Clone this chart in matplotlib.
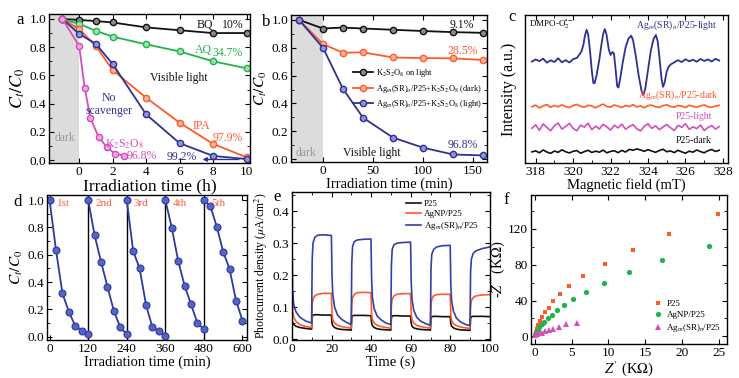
import numpy as np
import matplotlib
matplotlib.use('Agg')
import matplotlib.pyplot as plt
from matplotlib.ticker import MultipleLocator, NullLocator

plt.rcParams['font.family'] = ['Liberation Serif', 'DejaVu Serif']
plt.rcParams['mathtext.fontset'] = 'stix'
plt.rcParams['xtick.direction'] = 'in'
plt.rcParams['ytick.direction'] = 'in'
plt.rcParams['xtick.top'] = True
plt.rcParams['ytick.right'] = True
plt.rcParams['xtick.labelsize'] = 9.5
plt.rcParams['ytick.labelsize'] = 9.5
plt.rcParams['xtick.major.pad'] = 2.5
plt.rcParams['ytick.major.pad'] = 2
plt.rcParams['axes.linewidth'] = 1.0

BLACK = '#111111'
GREEN = '#22b14c'
ORANGE = '#ff5a28'
BLUE = '#2e3192'
MAGENTA = '#d24fb8'
GRAY = '#dcdcdc'

# ---- a: scavenger tests (h)
a_time = [-1, 0, 1, 2, 4, 6, 8, 10]
a_bq = [1.0, 0.993, 0.985, 0.975, 0.94, 0.92, 0.90, 0.90]
a_aq = [1.0, 0.965, 0.915, 0.875, 0.82, 0.77, 0.70, 0.65]
a_ipa = [1.0, 0.927, 0.809, 0.638, 0.442, 0.265, 0.115, 0.02]
a_none = [1.0, 0.894, 0.823, 0.681, 0.324, 0.12, 0.03, 0.008]
a_time_k = [-1, 0, 0.33, 0.67, 1.17, 1.67, 2.17, 2.67]
a_k = [1.0, 0.809, 0.513, 0.30, 0.161, 0.09, 0.043, 0.033]

# ---- b: K2S2O8 (min)
b_time = [-24, 0, 20, 40, 70, 100, 130, 160]
b_light = [1.0, 0.938, 0.945, 0.938, 0.929, 0.92, 0.912, 0.907]
b_dark = [1.0, 0.826, 0.764, 0.767, 0.73, 0.726, 0.724, 0.712]
b_cat = [1.0, 0.80, 0.505, 0.298, 0.155, 0.083, 0.034, 0.027]
b_labels = [r'K$_2$S$_2$O$_8$ on light',
            r'Ag$_m$(SR)$_n$/P25+K$_2$S$_2$O$_8$ (dark)',
            r'Ag$_m$(SR)$_n$/P25+K$_2$S$_2$O$_8$ (light)']

# ---- c: EPR spectra (offset, a.u.)
c_p25_dark = [7.5, 8.2, 6.9, 8.8, 7.4, 6.5, 8.1, 7.2, 8.9, 7.6, 6.8, 7.9, 8.4, 6.6, 7.7, 8.6, 7.1,
              8.0, 7.3, 8.7, 6.9, 7.8, 8.3, 7.0, 8.5, 7.4, 9.2, 8.6, 9.5, 8.8, 7.9, 9.0, 8.1, 7.2,
              8.4, 9.3, 7.6, 8.2, 7.0, 8.6, 7.5, 6.6, 8.0, 7.3, 8.8, 7.7, 6.9, 8.3, 9.1, 7.8, 8.6]
c_p25_light = [23.5, 25.8, 22.1, 26.4, 24.0, 21.8, 25.2, 27.0, 22.9, 24.7, 26.8, 23.3, 21.9, 25.6,
               24.2, 26.9, 22.5, 24.9, 23.0, 26.1, 24.4, 22.2, 25.5, 23.7, 26.3, 22.8, 24.6, 25.9,
               23.1, 21.7, 24.8, 26.5, 23.4, 25.1, 22.6, 24.3, 26.0, 23.8, 22.0, 25.4, 24.1, 26.6,
               22.7, 24.5, 23.2, 25.7, 21.9, 24.0, 25.3, 22.9, 24.6]
c_cat_dark = [38.0, 39.1, 37.2, 38.6, 39.5, 37.6, 38.9, 37.9, 39.3, 38.1, 37.4, 38.8, 39.6, 38.3,
              37.7, 39.0, 38.5, 37.3, 38.7, 39.8, 38.2, 37.8, 39.2, 38.4, 37.5, 38.9, 38.1, 39.4,
              37.9, 38.6, 37.3, 38.8, 39.1, 38.0, 37.6, 38.7, 39.3, 38.2, 37.7, 38.9, 38.4, 37.5,
              39.0, 38.3, 37.8, 38.6, 39.2, 38.0, 37.6, 38.5, 38.9]
c_field_light = [317.8, 318.0, 318.2, 318.4, 318.6, 318.8, 319.0, 319.2, 319.4, 319.6, 319.8, 320.0,
                 320.2, 320.35, 320.45, 320.55, 320.63, 320.72, 320.8, 320.9, 321.0, 321.08, 321.15,
                 321.25, 321.4, 321.5, 321.6, 321.69, 321.78, 321.9, 322.0, 322.1, 322.18, 322.27,
                 322.35, 322.42, 322.5, 322.65, 322.8, 322.95, 323.1, 323.2, 323.35, 323.5, 323.65,
                 323.75, 323.85, 324.0, 324.15, 324.3, 324.42, 324.52, 324.62, 324.72, 324.8,
                 324.88, 325.0, 325.1, 325.2, 325.4, 325.6, 325.8, 326.0, 326.2, 326.4, 326.6,
                 326.8, 327.0, 327.2, 327.4, 327.6, 327.8]
c_cat_light = [68.5, 70.0, 68.8, 70.5, 67.8, 69.4, 68.2, 70.8, 68.0, 69.5, 67.9, 70.2,
               71.0, 73.5, 75.5, 80.0, 86.0, 90.0, 87.0, 76.0, 62.0, 54.0, 54.0,
               59.0, 70.0, 79.0, 87.0, 90.5, 87.0, 77.0, 73.0, 75.0, 74.0, 63.0,
               52.0, 51.0, 56.0, 68.0, 78.0, 84.0, 86.0, 83.0, 72.0, 59.0, 49.0,
               46.0, 50.0, 63.0, 76.0, 84.0, 86.5, 82.0, 70.0, 57.0, 51.5,
               54.0, 62.0, 65.0, 66.5, 68.0, 69.5, 68.2, 70.1, 68.7, 69.8, 68.4,
               70.3, 68.9, 70.0, 68.6, 70.4, 69.2]

# ---- d: cycling runs
d_runs = [
    ([0, 20, 40, 60, 80, 100, 120], [1.0, 0.634, 0.317, 0.183, 0.078, 0.044, 0.017]),
    ([120, 140, 160, 180, 200, 220, 240], [1.0, 0.744, 0.549, 0.366, 0.188, 0.068, 0.017]),
    ([240, 260, 280, 300, 320, 340, 360], [1.0, 0.627, 0.50, 0.232, 0.068, 0.041, 0.005]),
    ([360, 380, 400, 420, 440, 460, 480], [1.0, 0.798, 0.554, 0.373, 0.237, 0.098, 0.056]),
    ([480, 500, 520, 540, 560, 580, 600], [1.0, 0.956, 0.805, 0.622, 0.493, 0.263, 0.117]),
]
d_names = ['1st', '2nd', '3rd', '4th', '5th']

# ---- e: photocurrent
e_t = [0, 0.3, 0.8, 2, 4, 7, 9.9,
       10.2, 10.6, 11.5, 13, 16, 19.9,
       20.2, 20.6, 21.5, 23, 25, 27.5, 29.9,
       30.2, 30.6, 31.5, 33, 36, 39.9,
       40.2, 40.6, 41.5, 43, 45, 47.5, 49.9,
       50.2, 50.6, 51.5, 53, 56, 59.9,
       60.2, 60.6, 61.5, 63, 65, 67.5, 69.9,
       70.2, 70.6, 71.5, 73, 76, 79.9,
       80.2, 80.6, 81.5, 83, 85, 87.5, 89.9,
       90.2, 90.6, 91.5, 93, 96, 100]
e_p25 = [0.06, 0.052, 0.046, 0.04, 0.036, 0.033, 0.031,
         0.07, 0.075, 0.076, 0.076, 0.075, 0.075,
         0.05, 0.042, 0.036, 0.032, 0.03, 0.029, 0.028,
         0.068, 0.073, 0.074, 0.074, 0.074, 0.073,
         0.05, 0.042, 0.036, 0.032, 0.03, 0.029, 0.028,
         0.067, 0.072, 0.073, 0.073, 0.072, 0.072,
         0.049, 0.04, 0.035, 0.032, 0.03, 0.029, 0.028,
         0.065, 0.07, 0.071, 0.071, 0.07, 0.07,
         0.048, 0.04, 0.035, 0.031, 0.029, 0.028, 0.027,
         0.065, 0.07, 0.071, 0.071, 0.071, 0.07]
e_agnp = [0.14, 0.09, 0.07, 0.055, 0.045, 0.039, 0.036,
          0.11, 0.125, 0.135, 0.14, 0.143, 0.143,
          0.08, 0.06, 0.05, 0.043, 0.039, 0.036, 0.034,
          0.11, 0.13, 0.14, 0.145, 0.146, 0.145,
          0.08, 0.06, 0.05, 0.043, 0.039, 0.036, 0.034,
          0.105, 0.125, 0.135, 0.14, 0.142, 0.142,
          0.078, 0.06, 0.05, 0.043, 0.039, 0.036, 0.034,
          0.105, 0.125, 0.135, 0.139, 0.14, 0.14,
          0.075, 0.058, 0.048, 0.042, 0.038, 0.035, 0.033,
          0.10, 0.12, 0.13, 0.135, 0.138, 0.139]
e_cat = [0.33, 0.16, 0.11, 0.085, 0.068, 0.056, 0.05,
         0.25, 0.30, 0.318, 0.325, 0.326, 0.324,
         0.20, 0.14, 0.10, 0.075, 0.062, 0.052, 0.046,
         0.24, 0.29, 0.305, 0.31, 0.312, 0.313,
         0.19, 0.13, 0.095, 0.072, 0.06, 0.05, 0.045,
         0.23, 0.28, 0.295, 0.30, 0.302, 0.303,
         0.18, 0.125, 0.09, 0.068, 0.056, 0.048, 0.043,
         0.22, 0.265, 0.28, 0.288, 0.292, 0.293,
         0.17, 0.12, 0.088, 0.066, 0.054, 0.046, 0.042,
         0.21, 0.25, 0.268, 0.276, 0.283, 0.288]
e_labels = ['P25', 'AgNP/P25', r'Ag$_m$(SR)$_n$/P25']

# ---- f: Nyquist
f_p25_x = [24.9, 18.2, 13.3, 9.6, 6.5, 4.6, 3.4, 2.5, 1.9, 1.45, 1.05, 0.75, 0.5, 0.3, 0.15, 0.05]
f_p25_y = [136.5, 114.5, 96, 81, 67.5, 56, 47, 39, 32, 27, 22, 17.5, 13, 8.5, 5, 2]
f_agnp_x = [23.7, 17.3, 12.8, 9.4, 7.0, 5.2, 4.0, 3.0, 2.3, 1.75, 1.3, 0.95, 0.65, 0.4, 0.2, 0.05]
f_agnp_y = [101, 85, 71.5, 59.5, 49.5, 41.5, 34.5, 29, 24, 20, 16.5, 13.5, 10.5, 7.5, 4.5, 1.5]
f_cat_x = [5.7, 4.3, 3.3, 2.5, 1.9, 1.45, 1.0, 0.65, 0.3, 0.1]
f_cat_y = [15.3, 13.5, 10.9, 8.8, 7.3, 5.8, 4.4, 3.3, 2.2, 1.1]
f_labels = ['P25', 'AgNP/P25', r'Ag$_m$(SR)$_n$/P25']


def rect(l, t, r, b):
    return [l / 739, 1 - b / 378, (r - l) / 739, (b - t) / 378]


def sphere_line(ax, x, y, c, light, label=None):
    ax.plot(x, y, '-o', color=c, lw=1.3, ms=4.5, mfc=light, mec=c, mew=1.0, label=label)


fig = plt.figure(figsize=(7.39, 3.78), dpi=100)

# ---------------- a
ax = fig.add_axes(rect(49, 14, 250, 163))
ax.axvspan(-1.8, 0, color=GRAY, lw=0)
sphere_line(ax, a_time, a_bq, BLACK, '#8a8a8a')
sphere_line(ax, a_time, a_aq, GREEN, '#9be3b0')
sphere_line(ax, a_time, a_ipa, ORANGE, '#ffb49a')
sphere_line(ax, a_time, a_none, BLUE, '#8f95d6')
sphere_line(ax, a_time_k, a_k, MAGENTA, '#efa6e0')
ax.annotate('', xy=(7.2, 0.005), xytext=(9.7, 0.005),
            arrowprops=dict(arrowstyle='-|>', color=BLUE, lw=1.0, mutation_scale=6))
fs = 8.5
ax.text(7.0, 0.96, 'BQ', color=BLACK, fontsize=fs, va='center')
ax.text(8.5, 0.96, '10%', color=BLACK, fontsize=fs, va='center')
ax.text(6.9, 0.78, 'AQ', color=GREEN, fontsize=fs, va='center')
ax.text(7.95, 0.76, '34.7%', color=GREEN, fontsize=fs, va='center')
ax.text(4.2, 0.58, 'Visible light', color=BLACK, fontsize=fs, va='center')
ax.text(1.8, 0.44, 'No', color=BLUE, fontsize=fs, va='center', ha='center')
ax.text(1.8, 0.35, 'scavenger', color=BLUE, fontsize=fs, va='center', ha='center')
ax.text(6.8, 0.24, 'IPA', color=ORANGE, fontsize=fs, va='center')
ax.text(8.9, 0.16, '97.9%', color=ORANGE, fontsize=fs, va='center', ha='center')
ax.text(2.7, 0.11, r'K$_2$S$_2$O$_8$', color=MAGENTA, fontsize=fs, va='center', ha='center')
ax.text(3.75, 0.03, '96.8%', color=MAGENTA, fontsize=fs, va='center', ha='center')
ax.text(6.1, 0.02, '99.2%', color=BLUE, fontsize=fs, va='center', ha='center')
ax.text(-0.85, 0.16, 'dark', color='#9a9a9a', fontsize=fs, va='center', ha='center')
ax.set_xlim(-1.8, 10.2)
ax.set_ylim(-0.02, 1.035)
ax.xaxis.set_major_locator(MultipleLocator(2))
ax.yaxis.set_major_locator(MultipleLocator(0.2))
ax.yaxis.set_minor_locator(MultipleLocator(0.1))
ax.set_xlabel('Irradiation time (h)', fontsize=12.5, labelpad=0)
ax.set_ylabel(r'$C_t/C_0$', fontsize=13, labelpad=2)
fig.text(16 / 739, 1 - 20 / 378, 'a', fontsize=12, va='center')

# ---------------- b
ax = fig.add_axes(rect(291, 15, 487, 162))
ax.axvspan(-32, 0, color=GRAY, lw=0)
sphere_line(ax, b_time, b_light, BLACK, '#8a8a8a', b_labels[0])
sphere_line(ax, b_time, b_dark, ORANGE, '#ffb49a', b_labels[1])
sphere_line(ax, b_time, b_cat, BLUE, '#8f95d6', b_labels[2])
ax.text(139, 0.965, '9.1%', color=BLACK, fontsize=fs, va='center', ha='center')
ax.text(139.7, 0.775, '28.5%', color=ORANGE, fontsize=fs, va='center', ha='center')
ax.text(139.7, 0.10, '96.8%', color=BLUE, fontsize=fs, va='center', ha='center')
ax.text(19.6, 0.045, 'Visible light', color=BLACK, fontsize=fs, va='center')
ax.text(-16.7, 0.045, 'dark', color='#9a9a9a', fontsize=fs, va='center', ha='center')
ax.legend(loc='upper left', bbox_to_anchor=(0.30, 0.67), frameon=False, fontsize=6.0,
          handlelength=2.4, handletextpad=0.3, labelspacing=0.45, borderaxespad=0)
ax.set_xlim(-32, 164)
ax.set_ylim(-0.02, 1.035)
ax.xaxis.set_major_locator(MultipleLocator(50))
ax.yaxis.set_major_locator(MultipleLocator(0.2))
ax.yaxis.set_minor_locator(MultipleLocator(0.1))
ax.set_xlabel('Irradiation time (min)', fontsize=10.5, labelpad=0)
ax.set_ylabel(r'$C_t/C_0$', fontsize=11, labelpad=2)
fig.text(262 / 739, 1 - 22 / 378, 'b', fontsize=12, va='center')

# ---------------- c
ax = fig.add_axes(rect(525, 15, 728, 163))
grid = np.linspace(317.8, 327.8, len(c_p25_dark))
ax.plot(grid, c_p25_dark, color=BLACK, lw=1.2)
ax.plot(grid, c_p25_light, color=MAGENTA, lw=1.2)
ax.plot(grid, c_cat_dark, color=ORANGE, lw=1.2)
ax.plot(c_field_light, c_cat_light, color=BLUE, lw=1.3)
ax.text(317.66, 93.4, r'DMPO-O$_2^{\bullet-}$', fontsize=6.5, va='center')
ax.text(327.67, 93.4, r'Ag$_m$(SR)$_n$/P25-light', color=BLUE, fontsize=7, va='center', ha='right')
ax.text(327.77, 46.1, r'Ag$_m$(SR)$_n$/P25-dark', color=ORANGE, fontsize=7, va='center', ha='right')
ax.text(327.4, 31.5, 'P25-light', color=MAGENTA, fontsize=7, va='center', ha='right')
ax.text(327.4, 15.3, 'P25-dark', color=BLACK, fontsize=7, va='center', ha='right')
ax.set_xlim(317.43, 328.27)
ax.set_ylim(0, 100)
ax.xaxis.set_major_locator(MultipleLocator(2))
ax.xaxis.set_minor_locator(MultipleLocator(1))
ax.yaxis.set_major_locator(NullLocator())
ax.set_xlabel('Magnetic field (mT)', fontsize=10.5, labelpad=0)
ax.set_ylabel('Intensity (a.u.)', fontsize=11.5, labelpad=6)
fig.text(508 / 739, 1 - 17 / 378, 'c', fontsize=12, va='center')

# ---------------- d
ax = fig.add_axes(rect(47, 195, 247, 340))
for (x, y), name in zip(d_runs, d_names):
    ax.plot(x, y, '-o', color='#2e3a9e', lw=1.3, ms=5, mfc='#5563c4', mec='#2e3a9e', mew=0.8)
    ax.text(x[0] + 22, 0.975, name, color='#ff5a3c', fontsize=8, va='center')
for xv in [120, 240, 360, 480]:
    ax.axvline(xv, color='black', lw=1.0, zorder=1)
ax.set_xlim(-8, 614)
ax.set_ylim(-0.024, 1.037)
ax.set_xticks([0, 120, 240, 360, 480, 600])
ax.yaxis.set_major_locator(MultipleLocator(0.2))
ax.yaxis.set_minor_locator(MultipleLocator(0.1))
ax.set_xlabel('Irradiation time (min)', fontsize=10.5, labelpad=0)
ax.set_ylabel(r'$C_t/C_0$', fontsize=11, labelpad=2)
fig.text(13 / 739, 1 - 202 / 378, 'd', fontsize=12, va='center')

# ---------------- e
ax = fig.add_axes(rect(292, 192, 490, 340))
ax.plot(e_t, e_p25, color=BLACK, lw=1.2, label=e_labels[0])
ax.plot(e_t, e_agnp, color=ORANGE, lw=1.2, label=e_labels[1])
ax.plot(e_t, e_cat, color='#3340a8', lw=1.2, label=e_labels[2])
ax.legend(loc='upper right', bbox_to_anchor=(0.96, 0.97), frameon=False, fontsize=6.5,
          handlelength=1.6, handletextpad=0.3, labelspacing=0.2, borderaxespad=0)
ax.set_xlim(0, 100)
ax.set_ylim(-0.003, 0.46)
ax.xaxis.set_major_locator(MultipleLocator(20))
ax.xaxis.set_minor_locator(MultipleLocator(10))
ax.yaxis.set_major_locator(MultipleLocator(0.1))
ax.yaxis.set_minor_locator(MultipleLocator(0.05))
ax.set_xlabel('Time (s)', fontsize=10.5, labelpad=0)
ax.set_ylabel(r'Photocurrent density ($\mu$A/cm$^2$)', fontsize=8.5, labelpad=2)
fig.text(273 / 739, 1 - 197 / 378, 'e', fontsize=12, va='center')

# ---------------- f
ax = fig.add_axes(rect(531, 195, 727, 344))
ax.plot(f_p25_x, f_p25_y, 's', color=ORANGE, ms=3.5, mew=0, label=f_labels[0])
ax.plot(f_agnp_x, f_agnp_y, 'o', color=GREEN, ms=3.8, mew=0, label=f_labels[1])
ax.plot(f_cat_x, f_cat_y, '^', color=MAGENTA, ms=4, mew=0, label=f_labels[2])
ax.legend(loc='lower right', bbox_to_anchor=(0.99, 0.04), frameon=False, fontsize=6.5,
          handlelength=1.0, handletextpad=0.4, labelspacing=0.35, borderaxespad=0, numpoints=1)
ax.set_xlim(-0.5, 26.1)
ax.set_ylim(-8.4, 157.5)
ax.xaxis.set_major_locator(MultipleLocator(5))
ax.yaxis.set_major_locator(MultipleLocator(40))
ax.yaxis.set_minor_locator(MultipleLocator(20))
ax.set_xlabel(r"$Z'$ (K$\Omega$)", fontsize=10.5, labelpad=0)
ax.set_ylabel(r"-$Z''$ (K$\Omega$)", fontsize=10.5, labelpad=1)
fig.text(503 / 739, 1 - 200 / 378, 'f', fontsize=12, va='center')

fig.savefig('out.png', dpi=100)
